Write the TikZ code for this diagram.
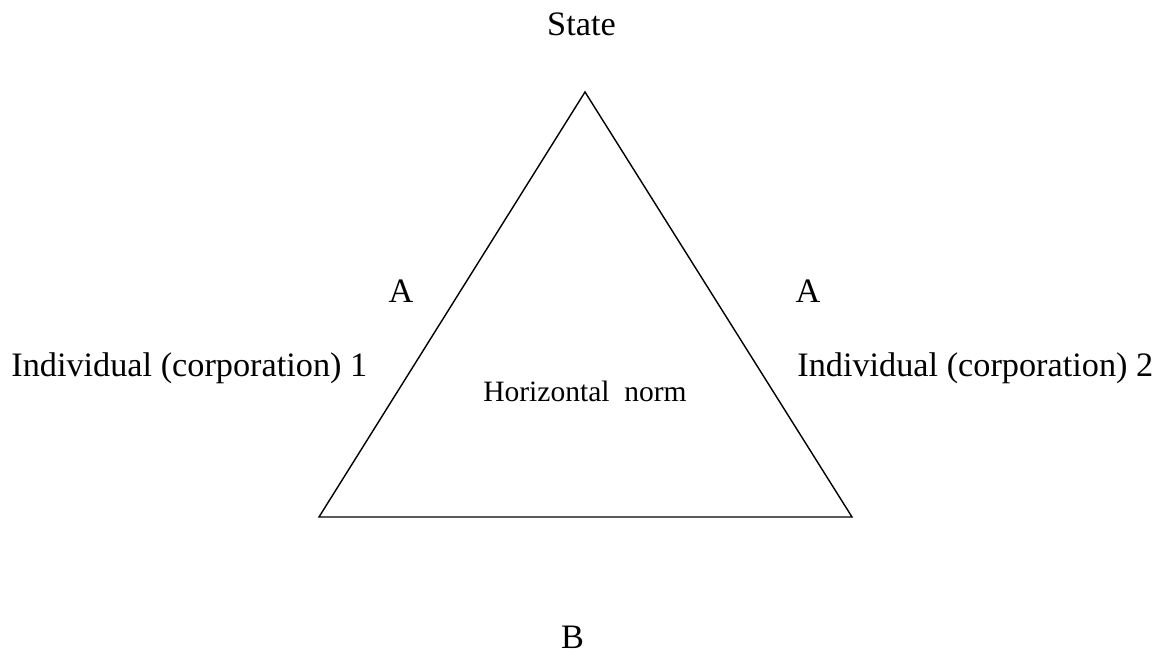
\documentclass[tikz,border=0pt]{standalone}
\usepackage{fontspec}
\setmainfont{Liberation Serif}
\usetikzlibrary{calc}

\begin{document}
\begin{tikzpicture}[lbl/.style={inner sep=0pt,anchor=base,font=\fontsize{19.5}{22}\selectfont},
small/.style={inner sep=0pt,anchor=base,font=\fontsize{16.8}{20}\selectfont}]
\useasboundingbox (0,0) rectangle (23.32,13.14);
\coordinate (top) at (11.70,11.30);
\coordinate (left) at (6.38,2.80);
\coordinate (right) at (17.04,2.80);
\draw[line width=0.8pt] (top) -- (left) -- (right) -- cycle;
\node[lbl] (state) at (11.63,12.42) {State};
\node[lbl] (a1) at (8.02,7.08) {A};
\node[lbl] (a2) at (16.16,7.08) {A};
\node[lbl,anchor=base west] (ind1) at (0.22,5.60) {Individual (corporation) 1};
\node[lbl,anchor=base west] (ind2) at (15.94,5.60) {Individual (corporation) 2};
\node[small] (norm) at (11.70,5.10) {Horizontal\ \ norm};
\node[lbl] (b) at (11.45,0.16) {B};
\end{tikzpicture}
\end{document}
